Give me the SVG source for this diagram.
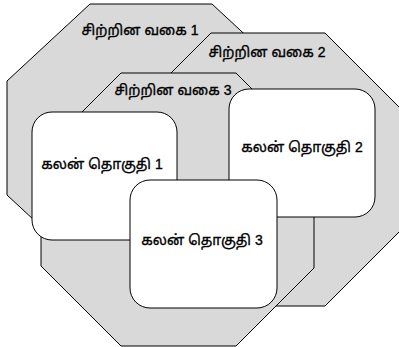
<svg xmlns="http://www.w3.org/2000/svg" width="399" height="347" viewBox="0 0 399 347">
<style>
.oct{fill:#d9d9d9;stroke:#000;stroke-width:1}
.box{fill:#fff;stroke:#000;stroke-width:1}
text{font-family:"Liberation Sans","Noto Sans Tamil","Noto Sans",sans-serif;font-size:14px;fill:#000;stroke:#000;stroke-width:0.35;text-anchor:middle}
</style>
<rect width="399" height="347" fill="#fff"/>
<g id="species1">
<polygon class="oct" points="90,4 212,4 295,81 295,195 212,272 90,272 7,195 7,81"/>
<text x="140" y="35">சிற்றின வகை 1</text>
</g>
<g id="species2">
<polygon class="oct" points="211,33 325,33 405,113 405,226 325,306 211,306 131,226 131,113"/>
<text x="267" y="57">சிற்றின வகை 2</text>
</g>
<g id="species3">
<polygon class="oct" points="121,73 236,73 314,151 314,268 236,346 121,346 41,266 41,153"/>
<text x="173" y="95">சிற்றின வகை 3</text>
</g>
<g id="connectors"></g>
<g id="unit1">
<rect class="box" x="32" y="112" width="145" height="128" rx="20" ry="20"/>
<text x="102" y="169">கலன் தொகுதி 1</text>
</g>
<g id="unit2">
<rect class="box" x="229" y="89" width="146" height="128" rx="20" ry="20"/>
<text x="302" y="152">கலன் தொகுதி 2</text>
</g>
<g id="unit3">
<rect class="box" x="130" y="180" width="147" height="128" rx="20" ry="20"/>
<text x="202" y="245">கலன் தொகுதி 3</text>
</g>
</svg>
